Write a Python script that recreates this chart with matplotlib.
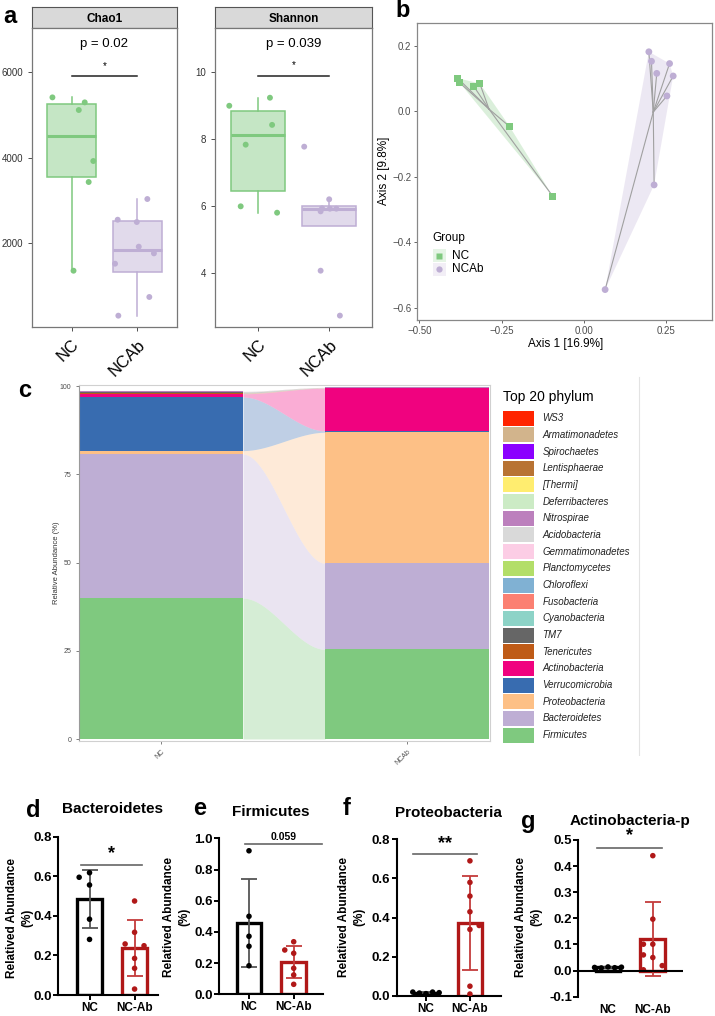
import matplotlib
matplotlib.use('Agg')
import matplotlib.pyplot as plt
from matplotlib.patches import Rectangle, Polygon
from matplotlib.lines import Line2D
from matplotlib.colors import to_rgba
import numpy as np

W, H = 715, 1016
plt.rcParams['font.family'] = ['Liberation Sans', 'DejaVu Sans']
plt.rcParams['axes.unicode_minus'] = True

GREEN = '#7FC97F'
PURPLE = '#BEAED4'
DARKRED = '#B01818'

# ---- panel a: alpha diversity (values and jitter) ----
chao1_nc = [5407, 5290, 5111, 3918, 3427, 1352]
chao1_nc_jit = [-0.29, 0.20, 0.11, 0.33, 0.26, 0.03]
chao1_ncab = [3029, 2545, 2491, 1914, 1758, 1516, 737, 300]
chao1_ncab_jit = [0.15, -0.30, -0.01, 0.02, 0.25, -0.34, 0.18, -0.29]
shannon_nc = [8.99, 9.23, 8.42, 7.83, 5.99, 5.80]
shannon_nc_jit = [-0.40, 0.17, 0.20, -0.17, -0.24, 0.27]
shannon_ncab = [7.77, 6.20, 5.93, 5.92, 5.92, 5.84, 4.07, 2.73]
shannon_ncab_jit = [-0.35, 0.0, -0.10, 0.01, 0.10, -0.12, -0.12, 0.15]
alpha_groups = ['NC', 'NCAb']

# ---- panel b: PCoA ----
pcoa_nc_x = [-0.383, -0.377, -0.334, -0.316, -0.225, -0.094]
pcoa_nc_y = [0.101, 0.087, 0.076, 0.085, -0.047, -0.260]
pcoa_ncab_x = [0.198, 0.206, 0.222, 0.261, 0.272, 0.253, 0.214, 0.065]
pcoa_ncab_y = [0.182, 0.153, 0.116, 0.146, 0.108, 0.047, -0.225, -0.545]

# ---- panel c: top 20 phyla, stacked bottom -> top ----
phyla = ['Firmicutes', 'Bacteroidetes', 'Proteobacteria', 'Verrucomicrobia',
         'Actinobacteria', 'Tenericutes', 'TM7', 'Cyanobacteria', 'Fusobacteria',
         'Chloroflexi', 'Planctomycetes', 'Gemmatimonadetes', 'Acidobacteria',
         'Nitrospirae', 'Deferribacteres', '[Thermi]', 'Lentisphaerae',
         'Spirochaetes', 'Armatimonadetes', 'WS3']
phyla_colors = ['#7FC97F', '#BEAED4', '#FDC086', '#386CB0', '#F0027F', '#BF5B17',
                '#666666', '#8DD3C7', '#FB8072', '#80B1D3', '#B3DE69', '#FCCDE5',
                '#D9D9D9', '#BC80BD', '#CCEBC5', '#FFED6F', '#B87333', '#8B00FF',
                '#D2B48C', '#FF2400']
nc_abund = [39.9, 40.8, 1.0, 15.2, 0.9, 0.2, 0.3, 0.05, 0.03, 0.02,
            0.02, 0.01, 0.01, 0.01, 0.01, 0.01, 0.005, 0.005, 0.005, 0.005]
ncab_abund = [25.4, 24.4, 37.1, 0.4, 12.1, 0.03, 0.02, 0.04, 0.03, 0.02,
              0.01, 0.01, 0.01, 0.01, 0.005, 0.005, 0.005, 0.005, 0.005, 0.005]
bar_groups = ['NC', 'NCAb']

# ---- panels d-g: relative abundance per mouse ----
bar_labels = ['NC', 'NC-Ab']
bact_nc = [0.595, 0.618, 0.556, 0.383, 0.281]
bact_ncab = [0.475, 0.317, 0.258, 0.249, 0.185, 0.135, 0.03]
firm_nc = [0.92, 0.50, 0.372, 0.308, 0.183]
firm_ncab = [0.337, 0.284, 0.263, 0.167, 0.124, 0.064]
prot_nc = [0.020, 0.015, 0.012, 0.020, 0.017]
prot_ncab = [0.69, 0.58, 0.51, 0.43, 0.34, 0.36, 0.05, 0.01]
actino_nc = [0.012, 0.010, 0.014, 0.011, 0.013]
actino_ncab = [0.44, 0.197, 0.101, 0.101, 0.06, 0.05, 0.019, 0.003]

fig = plt.figure(figsize=(W / 100, H / 100), dpi=100)


def px_axes(l, t, r, b):
    return fig.add_axes([l / W, 1 - b / H, (r - l) / W, (b - t) / H])


def fx(x):
    return x / W


def fy(y):
    return 1 - y / H


def letter(x, y, s):
    fig.text(fx(x), fy(y), s, fontsize=17, fontweight='bold', ha='left', va='baseline')


def convex_hull(xs, ys):
    pts = sorted(zip(xs, ys))

    def cross(o, a, b):
        return (a[0] - o[0]) * (b[1] - o[1]) - (a[1] - o[1]) * (b[0] - o[0])
    lower, upper = [], []
    for p in pts:
        while len(lower) >= 2 and cross(lower[-2], lower[-1], p) <= 0:
            lower.pop()
        lower.append(p)
    for p in reversed(pts):
        while len(upper) >= 2 and cross(upper[-2], upper[-1], p) <= 0:
            upper.pop()
        upper.append(p)
    return lower[:-1] + upper[:-1]


# ================= panel a =================
def alpha_panel(l, r, title, nc, nc_jit, ncab, ncab_jit, ylim, yticks,
                sig_y, star_y, p_y, ptxt):
    strip = px_axes(l, 7, r, 28)
    strip.set_facecolor('#D9D9D9')
    strip.set_xticks([])
    strip.set_yticks([])
    for s in strip.spines.values():
        s.set_color('#555555')
        s.set_linewidth(0.8)
    strip.text(0.5, 0.45, title, ha='center', va='center', fontsize=8.5,
               fontweight='bold', transform=strip.transAxes)

    ax = px_axes(l, 28, r, 327)
    bp = ax.boxplot([nc, ncab], positions=[1, 2], widths=0.75, patch_artist=True,
                    showfliers=False, showcaps=False)
    for i, col in enumerate([GREEN, PURPLE]):
        bp['boxes'][i].set_facecolor(to_rgba(col, 0.45))
        bp['boxes'][i].set_edgecolor(col)
        bp['boxes'][i].set_linewidth(1.1)
        bp['medians'][i].set_color(col)
        bp['medians'][i].set_linewidth(2.2)
        for w in bp['whiskers'][2 * i:2 * i + 2]:
            w.set_color(col)
            w.set_linewidth(1.1)
    ax.scatter(1 + np.array(nc_jit), nc, s=18, color=GREEN, zorder=3, edgecolors='none')
    ax.scatter(2 + np.array(ncab_jit), ncab, s=18, color=PURPLE, zorder=3, edgecolors='none')
    ax.plot([1, 2], [sig_y, sig_y], color='#222222', lw=1.1)
    ax.text(1.5, star_y, '*', ha='center', va='center', fontsize=7)
    ax.text(1.5, p_y, ptxt, ha='center', va='center', fontsize=9.5)
    ax.set_xlim(0.4, 2.6)
    ax.set_ylim(*ylim)
    ax.set_yticks(yticks)
    ax.set_xticks([1, 2])
    ax.set_xticklabels(alpha_groups, rotation=45, ha='right', va='top',
                       rotation_mode='anchor', fontsize=12)
    ax.tick_params(axis='y', labelsize=7, colors='#333333', length=3, width=0.6)
    ax.tick_params(axis='x', length=3, width=0.6, color='#333333', pad=4)
    for s in ax.spines.values():
        s.set_color('#777777')
        s.set_linewidth(0.9)


alpha_panel(32, 177, 'Chao1', chao1_nc, chao1_nc_jit, chao1_ncab, chao1_ncab_jit,
            (35, 7030), [2000, 4000, 6000], 5906, 6150, 6655, 'p = 0.02')
alpha_panel(215, 372, 'Shannon', shannon_nc, shannon_nc_jit, shannon_ncab, shannon_ncab_jit,
            (2.39, 11.31), [4, 6, 8, 10], 9.88, 10.2, 10.84, 'p = 0.039')
letter(3, 23, 'a')

# ================= panel b =================
axb = px_axes(417, 23, 712, 320)
for xs, ys, col, mk in [(pcoa_nc_x, pcoa_nc_y, GREEN, 's'),
                        (pcoa_ncab_x, pcoa_ncab_y, PURPLE, 'o')]:
    axb.add_patch(Polygon(convex_hull(xs, ys), closed=True, facecolor=col,
                          alpha=0.28, edgecolor='none', zorder=1))
    cx, cy = np.mean(xs), np.mean(ys)
    for x, y in zip(xs, ys):
        axb.plot([cx, x], [cy, y], color='#a0a0a0', lw=0.8, zorder=2)
    axb.scatter(xs, ys, marker=mk, s=24, color=col, zorder=3, edgecolors='none')
axb.set_xlim(-0.507, 0.39)
axb.set_ylim(-0.638, 0.27)
axb.set_xticks([-0.5, -0.25, 0, 0.25])
axb.set_xticklabels(['\u22120.50', '\u22120.25', '0.00', '0.25'])
axb.set_yticks([-0.6, -0.4, -0.2, 0, 0.2])
axb.set_yticklabels(['\u22120.6', '\u22120.4', '\u22120.2', '0.0', '0.2'])
axb.tick_params(labelsize=7, colors='#4d4d4d', length=2.5, width=0.6, pad=1.5)
for s in axb.spines.values():
    s.set_color('#888888')
    s.set_linewidth(0.9)
fig.text(fx(566), fy(344), 'Axis 1 [16.9%]', ha='center', va='center', fontsize=8.5)
fig.text(fx(384), fy(171), 'Axis 2 [9.8%]', ha='center', va='center', fontsize=8.5,
         rotation=90)
fig.text(fx(432.7), fy(238), 'Group', ha='left', va='center', fontsize=8.5)
for yy, lab, col, mk in [(255.7, 'NC', GREEN, 's'), (269, 'NCAb', PURPLE, 'o')]:
    fig.add_artist(Rectangle((fx(432.5), fy(yy + 6.5)), 13 / W, 13 / H,
                             transform=fig.transFigure, facecolor=col, alpha=0.2,
                             edgecolor='none'))
    fig.add_artist(Line2D([fx(439)], [fy(yy)], marker=mk, markersize=4.5, color=col,
                          markeredgecolor='none', transform=fig.transFigure))
    fig.text(fx(451.7), fy(yy), lab, ha='left', va='center', fontsize=8.5)
letter(395, 17, 'b')

# ================= panel c =================
axc = px_axes(79, 384.7, 490, 740.7)
BW = 2 / 3
nc_cum = np.concatenate([[0], np.cumsum(nc_abund)])
ncab_cum = np.concatenate([[0], np.cumsum(ncab_abund)])
t = np.linspace(0, 1, 80)
smooth = 3 * t ** 2 - 2 * t ** 3
flow_x = (1 + BW / 2) + (1 - BW) * t
for i, col in enumerate(phyla_colors):
    axc.bar(1, nc_abund[i], bottom=nc_cum[i], width=BW, color=col, linewidth=0)
    axc.bar(2, ncab_abund[i], bottom=ncab_cum[i], width=BW, color=col, linewidth=0)
    lo = nc_cum[i] + (ncab_cum[i] - nc_cum[i]) * smooth
    hi = nc_cum[i + 1] + (ncab_cum[i + 1] - nc_cum[i + 1]) * smooth
    axc.fill_between(flow_x, lo, hi, color=col, alpha=0.32, linewidth=0)
axc.set_xlim(0.667, 2.337)
axc.set_ylim(-0.48, 100.37)
axc.set_yticks([0, 25, 50, 75, 100])
axc.set_xticks([1, 2])
axc.set_xticklabels(bar_groups, rotation=45, ha='right', va='top', rotation_mode='anchor')
axc.tick_params(labelsize=5, colors='#4d4d4d', length=2, width=0.5)
for name, s in axc.spines.items():
    s.set_color('#9a9a9a' if name == 'left' else '#d0d0d0')
    s.set_linewidth(0.8)
fig.text(fx(56.7), fy(562.5), 'Relative Abundance (%)', rotation=90, ha='center',
         va='center', fontsize=5.5, color='#333333')
letter(18, 397, 'c')

# legend of panel c
axl = px_axes(495, 376, 641, 756)
axl.set_xlim(495, 641)
axl.set_ylim(756, 376)
axl.axis('off')
axl.text(502.7, 396.7, 'Top 20 phylum', ha='left', va='center', fontsize=10)
for k, i in enumerate(range(len(phyla) - 1, -1, -1)):
    yc = 418.3 + k * 16.67
    axl.add_patch(Rectangle((502.7, yc - 7.5), 31.3, 15, facecolor=phyla_colors[i],
                            edgecolor='none'))
    axl.text(542.3, yc, phyla[i], ha='left', va='center', fontsize=7, style='italic',
             color='#222222')
axl.plot([639.3, 639.3], [376.7, 755], color='#e3e3e3', lw=0.8)


# ================= panels d-g =================
def bar_panel(l, r, t, b, xlim, ylim, yticks, ytl, nc, ncab, nc_jit, ncab_jit,
              zero_axis=False):
    ax = px_axes(l, t, r, b)
    vals = [nc, ncab]
    jits = [nc_jit, ncab_jit]
    edge = ['black', DARKRED]
    errc = ['#555555', '#C43C3C']
    for i in range(2):
        m = np.mean(vals[i])
        sd = np.std(vals[i], ddof=1)
        ax.bar(i, m, width=0.55, facecolor='white', edgecolor=edge[i], linewidth=2.4,
               zorder=2)
        ax.errorbar(i, m, yerr=sd, color=errc[i], capsize=6, elinewidth=1.3,
                    capthick=1.3, zorder=3)
        ax.scatter(i + np.array(jits[i]), vals[i], s=16, color=edge[i], zorder=4,
                   edgecolors='none')
    ax.set_xlim(*xlim)
    ax.set_ylim(*ylim)
    ax.set_yticks(yticks)
    ax.set_yticklabels(ytl)
    ax.set_xticks([0, 1])
    ax.set_xticklabels(bar_labels)
    for lab in ax.get_yticklabels() + ax.get_xticklabels():
        lab.set_fontweight('bold')
    ax.tick_params(axis='y', labelsize=9.5, length=3.6, width=1.4, pad=1)
    ax.tick_params(axis='x', labelsize=8.5, length=3.6, width=1.4, pad=1.5)
    ax.spines['top'].set_visible(False)
    ax.spines['right'].set_visible(False)
    ax.spines['left'].set_linewidth(1.5)
    ax.spines['bottom'].set_linewidth(1.5)
    if zero_axis:
        ax.spines['bottom'].set_visible(False)
        ax.axhline(0, color='black', lw=1.5, zorder=5)
        ax.tick_params(axis='x', length=0, pad=5)
    return ax


def sig(ax, x0, x1, y, text, ty, size):
    ax.plot([x0, x1], [y, y], color='#666666', lw=1.2, clip_on=False)
    ax.text((x0 + x1) / 2, ty, text, ha='center', va='center', fontsize=size,
            fontweight='bold')


def ylab(x, y):
    fig.text(fx(x), fy(y), 'Relatived Abundance\n(%)', rotation=90, ha='center',
             va='center', fontsize=8.5, fontweight='bold', linespacing=1.35)


def title(x, y, s):
    fig.text(fx(x), fy(y), s, ha='center', va='baseline', fontsize=11, fontweight='bold')


t02 = ['0.0', '0.2', '0.4', '0.6', '0.8']
axd = bar_panel(58.3, 158, 836.7, 995, (-0.693, 1.52), (0, 0.8),
                [0, 0.2, 0.4, 0.6, 0.8], t02, bact_nc, bact_ncab,
                [-0.23, 0, 0, 0, 0], [0, 0, -0.21, 0.21, 0, 0, 0])
sig(axd, -0.18, 1.17, 0.657, '*', 0.715, 13)
title(112.7, 813.3, 'Bacteroidetes')
ylab(20, 918)
letter(26, 816.7, 'd')

axe = bar_panel(219.3, 323.3, 838.3, 994.3, (-0.664, 1.662), (0, 1.0),
                [0, 0.2, 0.4, 0.6, 0.8, 1.0], t02 + ['1.0'], firm_nc, firm_ncab,
                [0, 0, 0, 0, 0], [0, -0.2, 0, 0, 0, 0])
sig(axe, -0.08, 1.63, 0.964, '0.059', 1.01, 7.5)
title(270.7, 816, 'Firmicutes')
ylab(177, 917)
letter(193, 815, 'e')

axf = bar_panel(396.7, 500.7, 839.3, 996, (-0.666, 1.70), (0, 0.8),
                [0, 0.2, 0.4, 0.6, 0.8], t02, prot_nc, prot_ncab,
                [-0.3, -0.15, 0, 0.15, 0.3], [0, 0, 0, 0, 0, 0.21, 0, 0])
sig(axf, -0.29, 1.15, 0.723, '**', 0.78, 13)
title(448, 817.3, 'Proteobacteria')
ylab(352, 917)
letter(343, 815, 'f')

axg = bar_panel(578.3, 682.7, 840, 996.7, (-0.663, 1.667), (-0.1, 0.5),
                [-0.1, 0, 0.1, 0.2, 0.3, 0.4, 0.5],
                ['-0.1', '0.0', '0.1', '0.2', '0.3', '0.4', '0.5'], actino_nc, actino_ncab,
                [-0.3, -0.15, 0, 0.15, 0.3], [0, 0, -0.21, 0, -0.21, 0, 0.21, -0.21],
                zero_axis=True)
sig(axg, -0.25, 1.21, 0.471, '*', 0.515, 13)
title(630, 825, 'Actinobacteria-p')
ylab(529, 917)
letter(520.7, 828, 'g')

fig.savefig('out.png', dpi=100)
